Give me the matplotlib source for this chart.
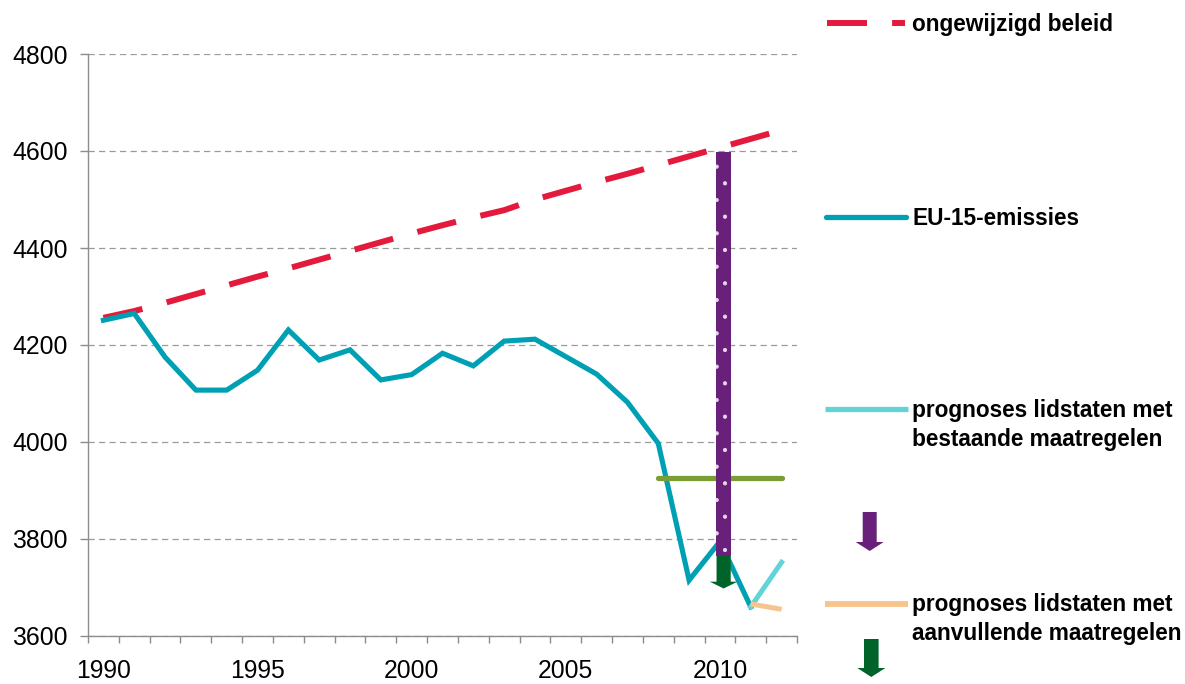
import matplotlib
matplotlib.use("Agg")
import matplotlib.pyplot as plt
from matplotlib.lines import Line2D
from matplotlib.patches import Polygon

# ── data (Mt CO2-eq, EU-15) ──────────────────────────────────────────────────
YEARS = list(range(1990, 2013))
BAU = [4256, 4270, 4287, 4305, 4323, 4341, 4358, 4376, 4394, 4412, 4430, 4447,
       4463, 4478, 4500, 4518, 4536, 4553, 4571, 4589, 4607, 4625, 4643]
EMIS_YEARS = list(range(1990, 2012))
EMISSIONS = [4251, 4265, 4175, 4107, 4107, 4148, 4231, 4169, 4190, 4128, 4139,
             4183, 4157, 4208, 4212, 4176, 4140, 4082, 3997, 3715, 3795, 3660]
PROJ_YEARS = [2011, 2012]
PROJ_EXISTING = [3660, 3752]
PROJ_ADDITIONAL = [3666, 3655]
TARGET_YEARS = [2008, 2012]
TARGET = 3925
GAP_YEAR = 2010
GAP_TOP = 4597
GAP_BOTTOM = 3765
EXTRA_BOTTOM = 3698

RED = "#E31A3C"
TEAL = "#00A0B4"
CYAN = "#62D4D8"
ORANGE = "#F7C48D"
OLIVE = "#7A9D34"
PURPLE = "#68207A"
DKGREEN = "#00632A"
GRAY = "#8C8C8C"

plt.rcParams["font.family"] = ["Liberation Sans", "DejaVu Sans"]
plt.rcParams["hatch.color"] = "#E6D6EC"
plt.rcParams["hatch.linewidth"] = 0.6

W, H = 1185, 684


def fx(x):
    return x / W


def fy(y):
    return 1 - y / H


def xi(year):
    return year - YEARS[0]


fig = plt.figure(figsize=(W / 100, H / 100), dpi=100)
ax = fig.add_axes([fx(88), fy(636), (797 - 88) / W, (636 - 54) / H])

ax.plot([xi(y) for y in YEARS], BAU, color=RED, lw=4.3,
        dashes=(6.7, 4.2), solid_capstyle="butt", dash_capstyle="butt", zorder=3)
ax.plot([xi(y) for y in EMIS_YEARS], EMISSIONS, color=TEAL, lw=3.7,
        solid_joinstyle="miter", zorder=4)
ax.plot([xi(y) for y in PROJ_YEARS], PROJ_EXISTING, color=CYAN, lw=3.6, zorder=4)
ax.plot([xi(y) for y in PROJ_YEARS], PROJ_ADDITIONAL, color=ORANGE, lw=3.6,
        solid_capstyle="butt", zorder=5)
ax.plot([xi(y) for y in TARGET_YEARS], [TARGET, TARGET], color=OLIVE, lw=3.8,
        solid_capstyle="round", zorder=5)

# gap between BAU and emissions in 2010
xc = xi(GAP_YEAR) + 0.12
ax.bar(xc, GAP_TOP - GAP_BOTTOM, bottom=GAP_BOTTOM, width=0.48,
       color=PURPLE, hatch=".", linewidth=0, zorder=6)

# extra reduction arrow below the gap bar
head_len = 14
shaft, head = 0.23, 0.45
arrow_pts = [(xc - shaft, GAP_BOTTOM), (xc + shaft, GAP_BOTTOM),
             (xc + shaft, EXTRA_BOTTOM + head_len), (xc + head, EXTRA_BOTTOM + head_len),
             (xc, EXTRA_BOTTOM), (xc - head, EXTRA_BOTTOM + head_len),
             (xc - shaft, EXTRA_BOTTOM + head_len)]
ax.add_patch(Polygon(arrow_pts, closed=True, facecolor=DKGREEN, edgecolor="none", zorder=6))

# axes styling
ax.set_xlim(-0.5, len(YEARS) - 0.5)
ax.set_ylim(3600, 4800)
ax.set_yticks(range(3600, 4801, 200))
ax.set_xticks([xi(y) for y in YEARS if y % 5 == 0])
ax.set_xticklabels([str(y) for y in YEARS if y % 5 == 0])
ax.set_xticks([i - 0.5 for i in range(len(YEARS) + 1)], minor=True)
ax.tick_params(axis="x", which="major", length=0, pad=16.5, labelsize=17.8)
ax.tick_params(axis="x", which="minor", length=5, width=1, color=GRAY, direction="out")
ax.tick_params(axis="y", length=5.8, width=1, color=GRAY, pad=8.6, labelsize=17.8)
for side in ["top", "right"]:
    ax.spines[side].set_visible(False)
for side in ["left", "bottom"]:
    ax.spines[side].set_color(GRAY)
    ax.spines[side].set_linewidth(1)
ax.yaxis.grid(True, color="#9A9A9A", lw=0.9, dashes=(5, 3.4))
ax.set_axisbelow(True)

# ── legend on the right ──────────────────────────────────────────────────────
txt = dict(fontsize=16.3, fontweight="bold", color="black", ha="left", va="baseline")
TX = 912

fig.add_artist(Line2D([fx(827), fx(905)], [fy(22.5)] * 2, color=RED, lw=4.3,
                      dashes=(6.7, 4.2), dash_capstyle="butt"))
fig.text(fx(TX), fy(31), "ongewijzigd beleid", **txt)

fig.add_artist(Line2D([fx(826), fx(906)], [fy(216.5)] * 2, color=TEAL, lw=3.8,
                      solid_capstyle="round"))
fig.text(fx(TX), fy(225), "EU-15-emissies", **txt)

fig.add_artist(Line2D([fx(825), fx(908)], [fy(409)] * 2, color=CYAN, lw=3.8,
                      solid_capstyle="butt"))
fig.text(fx(TX), fy(417), "prognoses lidstaten met", **txt)
fig.text(fx(TX), fy(446), "bestaande maatregelen", **txt)

fig.add_artist(Line2D([fx(825), fx(908)], [fy(603.5)] * 2, color=ORANGE, lw=4.2,
                      solid_capstyle="butt"))
fig.text(fx(TX), fy(611), "prognoses lidstaten met", **txt)
fig.text(fx(TX), fy(640), "aanvullende maatregelen", **txt)


def legend_arrow(cx, top, shaft_end, tip, half_shaft, half_head, color, hatch=None):
    pts = [(cx - half_shaft, top), (cx + half_shaft, top), (cx + half_shaft, shaft_end),
           (cx + half_head, shaft_end), (cx, tip), (cx - half_head, shaft_end),
           (cx - half_shaft, shaft_end)]
    pts = [(fx(x), fy(y)) for x, y in pts]
    fig.add_artist(Polygon(pts, closed=True, facecolor=color, edgecolor="none",
                           hatch=hatch, transform=fig.transFigure))


legend_arrow(869.7, 512, 542, 551, 7, 14, PURPLE, hatch=".")
legend_arrow(871.3, 639, 668, 677, 7.3, 14, DKGREEN)

fig.savefig("out.png", dpi=100)
